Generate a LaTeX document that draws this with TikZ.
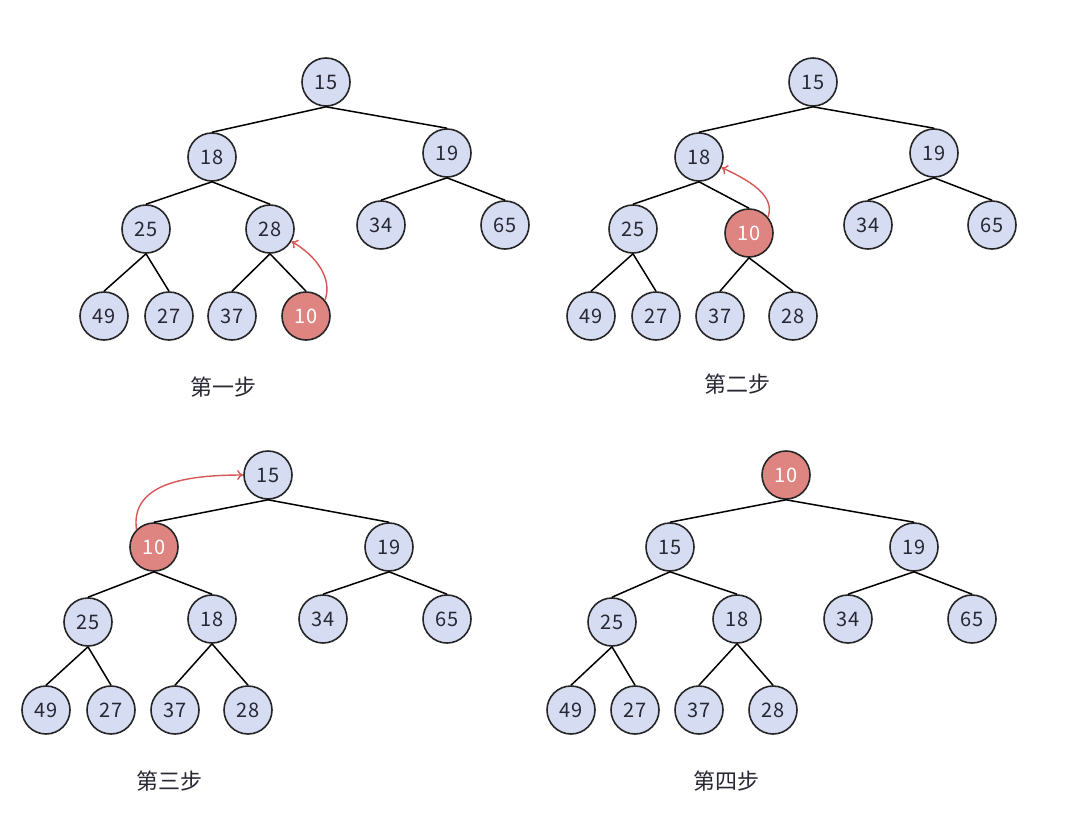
\documentclass[tikz,border=0pt]{standalone}
\usepackage{fontspec}
\setmainfont{Noto Sans CJK SC}
\usetikzlibrary{arrows.meta}
\definecolor{nodeblue}{RGB}{214,220,242}
\definecolor{nodered}{RGB}{222,133,129}
\definecolor{arrowred}{RGB}{214,88,86}
\definecolor{digit}{RGB}{40,40,52}

\begin{document}
\begin{tikzpicture}[x=1pt,y=-1pt,
  key/.style={circle,draw=black!85,line width=1.6pt,fill=nodeblue,minimum size=48pt,inner sep=0pt,text=digit,font=\fontsize{20}{20}\selectfont},
  hot/.style={key,fill=nodered,text=white},
  link/.style={line width=1.5pt},
  swap/.style={-{To[length=6pt,width=10pt]},arrowred,line width=1.4pt},
  caption/.style={text=digit,font=\fontsize{22}{22}\selectfont}]
\useasboundingbox (0,0) rectangle (1076,828);

% step 1
\node [key] (t1-15) at (326,82) {15};
\node [key] (t1-18) at (212,157) {18};
\node [key] (t1-19) at (447,153) {19};
\node [key] (t1-25) at (146,229) {25};
\node [key] (t1-28) at (270,229) {28};
\node [key] (t1-34) at (381,225) {34};
\node [key] (t1-65) at (505,225) {65};
\node [key] (t1-49) at (104,316) {49};
\node [key] (t1-27) at (169,316) {27};
\node [key] (t1-37) at (232,316) {37};
\node [hot] (t1-10) at (306,316) {10};
\draw [link] (t1-15.south) -- (t1-18.north);
\draw [link] (t1-15.south) -- (t1-19.north);
\draw [link] (t1-18.south) -- (t1-25.north);
\draw [link] (t1-18.south) -- (t1-28.north);
\draw [link] (t1-19.south) -- (t1-34.north);
\draw [link] (t1-19.south) -- (t1-65.north);
\draw [link] (t1-25.south) -- (t1-49.north);
\draw [link] (t1-25.south) -- (t1-27.north);
\draw [link] (t1-28.south) -- (t1-37.north);
\draw [link] (t1-28.south) -- (t1-10.north);
\draw [swap] (t1-10.40) .. controls +(8,-22) and +(24,14) .. (t1-28.-30);
\node [caption] (cap1) at (223,387) {第一步};

% step 2
\node [key] (t2-15) at (813,82) {15};
\node [key] (t2-18) at (699,157) {18};
\node [key] (t2-19) at (934,153) {19};
\node [key] (t2-25) at (633,229) {25};
\node [hot] (t2-10) at (749,233) {10};
\node [key] (t2-34) at (868,225) {34};
\node [key] (t2-65) at (992,225) {65};
\node [key] (t2-49) at (591,316) {49};
\node [key] (t2-27) at (656,316) {27};
\node [key] (t2-37) at (720,316) {37};
\node [key] (t2-28) at (793,316) {28};
\draw [link] (t2-15.south) -- (t2-18.north);
\draw [link] (t2-15.south) -- (t2-19.north);
\draw [link] (t2-18.south) -- (t2-25.north);
\draw [link] (t2-18.south) -- (t2-10.north);
\draw [link] (t2-19.south) -- (t2-34.north);
\draw [link] (t2-19.south) -- (t2-65.north);
\draw [link] (t2-25.south) -- (t2-49.north);
\draw [link] (t2-25.south) -- (t2-27.north);
\draw [link] (t2-10.south) -- (t2-37.north);
\draw [link] (t2-10.south) -- (t2-28.north);
\draw [swap] (t2-10.40) .. controls +(8,-22) and +(26,12) .. (t2-18.-25);
\node [caption] (cap2) at (737,384) {第二步};

% step 3
\node [key] (t3-15) at (268,475) {15};
\node [hot] (t3-10) at (154,547) {10};
\node [key] (t3-19) at (389,547) {19};
\node [key] (t3-25) at (88,622) {25};
\node [key] (t3-18) at (212,619) {18};
\node [key] (t3-34) at (323,619) {34};
\node [key] (t3-65) at (447,619) {65};
\node [key] (t3-49) at (46,710) {49};
\node [key] (t3-27) at (111,710) {27};
\node [key] (t3-37) at (175,710) {37};
\node [key] (t3-28) at (248,710) {28};
\draw [link] (t3-15.south) -- (t3-10.north);
\draw [link] (t3-15.south) -- (t3-19.north);
\draw [link] (t3-10.south) -- (t3-25.north);
\draw [link] (t3-10.south) -- (t3-18.north);
\draw [link] (t3-19.south) -- (t3-34.north);
\draw [link] (t3-19.south) -- (t3-65.north);
\draw [link] (t3-25.south) -- (t3-49.north);
\draw [link] (t3-25.south) -- (t3-27.north);
\draw [link] (t3-18.south) -- (t3-37.north);
\draw [link] (t3-18.south) -- (t3-28.north);
\draw [swap] (t3-10.135) .. controls +(-6,-45) and +(-60,0) .. (t3-15.west);
\node [caption] (cap3) at (169,781) {第三步};

% step 4
\node [hot] (t4-10) at (786,475) {10};
\node [key] (t4-15) at (670,547) {15};
\node [key] (t4-19) at (914,547) {19};
\node [key] (t4-25) at (612,622) {25};
\node [key] (t4-18) at (737,619) {18};
\node [key] (t4-34) at (848,619) {34};
\node [key] (t4-65) at (972,619) {65};
\node [key] (t4-49) at (571,710) {49};
\node [key] (t4-27) at (635,710) {27};
\node [key] (t4-37) at (699,710) {37};
\node [key] (t4-28) at (773,710) {28};
\draw [link] (t4-10.south) -- (t4-15.north);
\draw [link] (t4-10.south) -- (t4-19.north);
\draw [link] (t4-15.south) -- (t4-25.north);
\draw [link] (t4-15.south) -- (t4-18.north);
\draw [link] (t4-19.south) -- (t4-34.north);
\draw [link] (t4-19.south) -- (t4-65.north);
\draw [link] (t4-25.south) -- (t4-49.north);
\draw [link] (t4-25.south) -- (t4-27.north);
\draw [link] (t4-18.south) -- (t4-37.north);
\draw [link] (t4-18.south) -- (t4-28.north);
\node [caption] (cap4) at (726,781) {第四步};

\end{tikzpicture}
\end{document}
